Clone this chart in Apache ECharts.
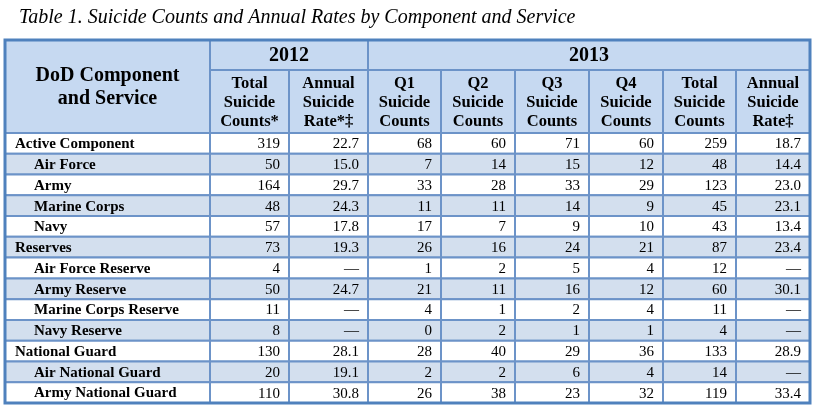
<!DOCTYPE html>
<html><head><meta charset="utf-8">
<script src="https://cdn.jsdelivr.net/npm/echarts@6/dist/echarts.min.js"></script>
<style>html,body{margin:0;padding:0;background:#fff}#c{width:820px;height:412px}</style>
</head><body><div id="c"></div>
<script>
// ---- data ----
const tableTitle = 'Table 1. Suicide Counts and Annual Rates by Component and Service';
const firstHeader = 'DoD Component\nand Service';
const yearLabels = ['2012', '2013'];
const colHeaders = ['Total\nSuicide\nCounts*', 'Annual\nSuicide\nRate*‡', 'Q1\nSuicide\nCounts', 'Q2\nSuicide\nCounts', 'Q3\nSuicide\nCounts', 'Q4\nSuicide\nCounts', 'Total\nSuicide\nCounts', 'Annual\nSuicide\nRate‡'];
const rowLabels = ['Active Component', 'Air Force', 'Army', 'Marine Corps', 'Navy', 'Reserves', 'Air Force Reserve', 'Army Reserve', 'Marine Corps Reserve', 'Navy Reserve', 'National Guard', 'Air National Guard', 'Army National Guard'];
const rowLevel = [0, 1, 1, 1, 1, 0, 1, 1, 1, 1, 0, 1, 1];
const total2012 = [319, 50, 164, 48, 57, 73, 4, 50, 11, 8, 130, 20, 110];
const rate2012 = [22.7, 15.0, 29.7, 24.3, 17.8, 19.3, null, 24.7, null, null, 28.1, 19.1, 30.8];
const q1_2013 = [68, 7, 33, 11, 17, 26, 1, 21, 4, 0, 28, 2, 26];
const q2_2013 = [60, 14, 28, 11, 7, 16, 2, 11, 1, 2, 40, 2, 38];
const q3_2013 = [71, 15, 33, 14, 9, 24, 5, 16, 2, 1, 29, 6, 23];
const q4_2013 = [60, 12, 29, 9, 10, 21, 4, 12, 4, 1, 36, 4, 32];
const total2013 = [259, 48, 123, 45, 43, 87, 12, 60, 11, 4, 133, 14, 119];
const rate2013 = [18.7, 14.4, 23.0, 23.1, 13.4, 23.4, null, 30.1, null, null, 28.9, null, 33.4];

// ---- layout (table units) ----
const colEdges = [0, 205, 284, 363, 436, 510, 584, 658, 731, 805];
const yearRowH = 30, headH = 93, tableH = 363;
const nRows = rowLabels.length;
const rowH = (tableH - headH) / nRows;
const SERIF = "'Liberation Serif','Times New Roman',serif";
const HEAD_BG = '#C6D9F1', STRIPE = '#D3DFEE', LINE = '#6C93C8', OUTER = '#4F81BD';

const valueCols = [total2012, rate2012, q1_2013, q2_2013, q3_2013, q4_2013, total2013, rate2013];
const isRate = [false, true, false, false, false, false, false, true];

const cells = [];
function add(c0, c1, y0, y1, text, align, font, fill, pad, lh) {
  cells.push({x0: colEdges[c0], x1: colEdges[c1], y0, y1, text, align, font, fill, pad, lh});
}
add(0, 1, 0, headH, firstHeader, 'center', 'bold 20px ' + SERIF, HEAD_BG, 0, 23);
add(1, 3, 0, yearRowH, yearLabels[0], 'center', 'bold 20px ' + SERIF, HEAD_BG, 0, 22);
add(3, 9, 0, yearRowH, yearLabels[1], 'center', 'bold 20px ' + SERIF, HEAD_BG, 0, 22);
colHeaders.forEach((h, i) => add(i + 1, i + 2, yearRowH, headH, h, 'center', 'bold 16.5px ' + SERIF, HEAD_BG, 0, 19));
for (let r = 0; r < nRows; r++) {
  const y0 = headH + r * rowH, y1 = y0 + rowH;
  const fill = r % 2 === 1 ? STRIPE : '#FFFFFF';
  add(0, 1, y0, y1, rowLabels[r], 'left', 'bold 15px ' + SERIF, fill, rowLevel[r] ? 29 : 10, 17);
  valueCols.forEach((arr, i) => {
    const v = arr[r];
    const t = v == null ? '—' : (isRate[i] ? v.toFixed(1) : String(v));
    add(i + 1, i + 2, y0, y1, t, 'right', '15px ' + SERIF, fill, 9, 17);
  });
}

function renderCell(params, api) {
  const c = cells[params.dataIndex];
  const p0 = api.coord([c.x0, c.y0]);
  const p1 = api.coord([c.x1, c.y1]);
  const x = Math.min(p0[0], p1[0]), y = Math.min(p0[1], p1[1]);
  const w = Math.abs(p1[0] - p0[0]), h = Math.abs(p1[1] - p0[1]);
  const tx = c.align === 'left' ? x + c.pad : c.align === 'right' ? x + w - c.pad : x + w / 2;
  return {type: 'group', children: [
    {type: 'rect', shape: {x, y, width: w, height: h}, style: {fill: c.fill, stroke: LINE, lineWidth: 2}},
    {type: 'text', style: {text: c.text, x: tx, y: y + h / 2 + 1, align: c.align, verticalAlign: 'middle', font: c.font, fill: '#000', lineHeight: c.lh}}
  ]};
}
function renderBorder(params, api) {
  const p0 = api.coord([0, 0]);
  const p1 = api.coord([colEdges[colEdges.length - 1], tableH]);
  return {type: 'rect', shape: {x: p0[0], y: p0[1], width: p1[0] - p0[0], height: p1[1] - p0[1]}, style: {fill: 'none', stroke: OUTER, lineWidth: 3}};
}

const chart = echarts.init(document.getElementById('c'), null, {renderer: 'canvas'});
chart.setOption({
  animation: false,
  backgroundColor: '#fff',
  title: {text: tableTitle, left: 14, top: 3, textStyle: {fontFamily: SERIF, fontStyle: 'italic', fontWeight: 'normal', fontSize: 20, color: '#000'}},
  grid: {left: 5, top: 40, width: 805, height: 363},
  xAxis: {type: 'value', min: 0, max: 805, show: false},
  yAxis: {type: 'value', min: 0, max: tableH, inverse: true, show: false},
  series: [
    {type: 'custom', coordinateSystem: 'cartesian2d', clip: false, renderItem: renderCell,
     data: cells.map(c => [(c.x0 + c.x1) / 2, (c.y0 + c.y1) / 2])},
    {type: 'custom', coordinateSystem: 'cartesian2d', clip: false, renderItem: renderBorder, data: [[0, 0]], z: 5}
  ]
});
</script></body></html>
